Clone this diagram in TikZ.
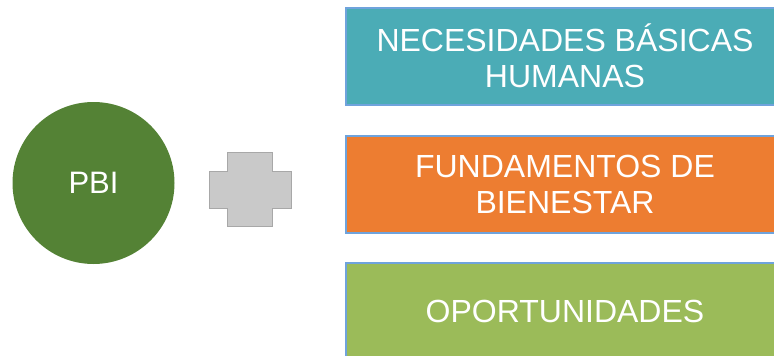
\documentclass[tikz,border=0pt]{standalone}
\usepackage{fontspec}
\setmainfont{Liberation Sans}
\definecolor{teal1}{HTML}{4BACB6}
\definecolor{orange1}{HTML}{ED7D31}
\definecolor{green1}{HTML}{9BBB59}
\definecolor{dgreen}{HTML}{548235}
\definecolor{bord}{HTML}{6FA3DC}
\definecolor{plusfill}{HTML}{C9C9C9}
\definecolor{plusbord}{HTML}{A8A8A8}
\begin{document}
\begin{tikzpicture}[x=1pt,y=-1pt,
  box/.style={draw=bord,line width=2pt,minimum width=438pt,minimum height=97pt,text=white,
    font=\fontsize{32}{36}\selectfont,align=center,inner sep=0pt},
  circ/.style={circle,fill=dgreen,minimum size=162pt,text=white,font=\fontsize{31}{36}\selectfont,inner sep=0pt}]
\useasboundingbox (0,0) rectangle (774,356);
\clip (0,0) rectangle (774,356);
\node[circ] (pbi) at (93.5,183) {PBI};
\draw[fill=plusfill,draw=plusbord,line width=1pt]
  (227,152) -- (272,152) -- (272,171) -- (291,171) -- (291,208) -- (272,208) -- (272,226)
  -- (227,226) -- (227,208) -- (209,208) -- (209,171) -- (227,171) -- cycle;
\node[box,fill=teal1] (nbh) at (565,56) {NECESIDADES BÁSICAS\\HUMANAS};
\node[box,fill=orange1] (fb) at (565,184.5) {FUNDAMENTOS DE\\BIENESTAR};
\node[box,fill=green1] (op) at (565,311) {OPORTUNIDADES};
\end{tikzpicture}
\end{document}
